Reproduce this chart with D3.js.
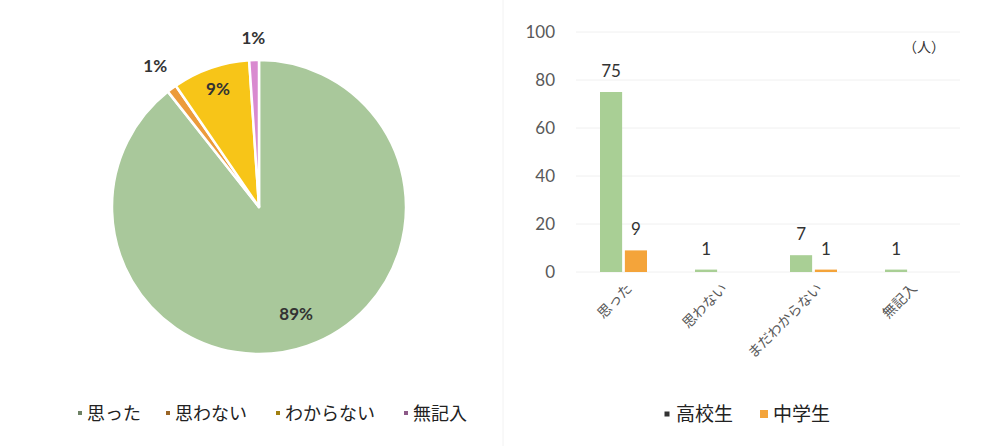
<!DOCTYPE html>
<html>
<head>
<meta charset="utf-8">
<script src="https://cdn.jsdelivr.net/npm/d3@7"></script>
<style>
  body { margin: 0; background: #fff; }
  svg { display: block; }
</style>
</head>
<body>
<svg id="chart" width="985" height="446"></svg>
<script>
// pie data (counts, total 94)
const pieLabels = ['思った', '思わない', 'わからない', '無記入'];
const pieValues = [84, 1, 8, 1];
const pieColors = ['#a9c89b', '#ec9b3b', '#f7c518', '#d98ad0'];

// bar data
const barCategories = ['思った', '思わない', 'まだわからない', '無記入'];
const seriesNames = ['高校生', '中学生'];
const highSchool = [75, 1, 7, 1];
const juniorHigh = [9, 0, 1, 0];
const yTicks = [0, 20, 40, 60, 80, 100];

const cfg = {
  numFont: 'Lato, "Noto Sans CJK JP", sans-serif',
  jpFont: '"Noto Sans CJK JP", sans-serif',
  textColor: '#333',
  axisColor: '#595959',
  gridColor: '#f0f0f0',
  barColors: ['#a9cf95', '#f4a43a'],
};

const svg = d3.select('#chart');

// faint panel divider
svg.append('line')
  .attr('x1', 503).attr('x2', 503).attr('y1', 0).attr('y2', 446)
  .attr('stroke', '#f2f2f2');

// ---------- pie ----------
const R = 147;
const pieG = svg.append('g').attr('transform', 'translate(259,207)');

const pie = d3.pie().sort(null).value(d => d)(pieValues);
const arc = d3.arc().innerRadius(0).outerRadius(R);

pieG.selectAll('path')
  .data(pie)
  .enter()
  .append('path')
  .attr('d', arc)
  .attr('fill', (d, i) => pieColors[i])
  .attr('stroke', '#fff')
  .attr('stroke-width', 2.5)
  .attr('stroke-linejoin', 'round');

// label radius per slice (inside for big ones, outside for small)
const labelR = [0.77, 1.19, 0.85, 1.15];
const total = d3.sum(pieValues);
pieG.selectAll('.pct')
  .data(pie)
  .enter()
  .append('text')
  .attr('class', 'pct')
  .attr('transform', (d, i) => {
    const a = d3.arc().innerRadius(R * labelR[i]).outerRadius(R * labelR[i]);
    return 'translate(' + a.centroid(d) + ')';
  })
  .attr('text-anchor', 'middle')
  .attr('dy', '0.35em')
  .style('font-family', cfg.numFont)
  .style('font-size', '17px')
  .style('font-weight', 'bold')
  .style('fill', cfg.textColor)
  .text(d => Math.round(d.value / total * 100) + '%');

// pie legend
const pieLegendX = [80, 168, 278, 406];
const pieLegend = svg.append('g');
pieLabels.forEach((name, i) => {
  pieLegend.append('rect')
    .attr('x', pieLegendX[i] - 2).attr('y', 411)
    .attr('width', 4).attr('height', 4)
    .attr('fill', d3.color(pieColors[i]).darker(1.2));
  pieLegend.append('text')
    .attr('x', pieLegendX[i] + 7).attr('y', 420)
    .style('font-family', cfg.jpFont)
    .style('font-size', '18px')
    .style('fill', '#222')
    .text(name);
});

// ---------- bar chart ----------
const y = d3.scaleLinear().domain([0, 100]).range([272, 32]);
const x0 = d3.scaleBand().domain(barCategories).range([576, 956]);
const x1 = d3.scaleBand().domain(seriesNames).range([0, 47]).paddingInner(0.11);

const barG = svg.append('g');

// gridlines
barG.selectAll('.grid')
  .data(yTicks)
  .enter()
  .append('line')
  .attr('x1', 576).attr('x2', 960)
  .attr('y1', d => y(d)).attr('y2', d => y(d))
  .attr('stroke', cfg.gridColor);

// y tick labels
barG.selectAll('.ytick')
  .data(yTicks)
  .enter()
  .append('text')
  .attr('x', 555)
  .attr('y', d => y(d))
  .attr('dy', '0.35em')
  .attr('text-anchor', 'end')
  .style('font-family', cfg.numFont)
  .style('font-size', '17px')
  .style('fill', cfg.axisColor)
  .text(d => d);

// bars
const series = [highSchool, juniorHigh];
series.forEach((vals, s) => {
  const rows = barCategories.map((c, i) => ({ c, v: vals[i] })).filter(d => d.v > 0);
  const groupOffset = (x0.bandwidth() - 47) / 2;
  barG.selectAll('.bar' + s)
    .data(rows)
    .enter()
    .append('rect')
    .attr('x', d => x0(d.c) + groupOffset + x1(seriesNames[s]))
    .attr('y', d => y(d.v))
    .attr('width', x1.bandwidth())
    .attr('height', d => y(0) - y(d.v))
    .attr('fill', cfg.barColors[s]);

  barG.selectAll('.val' + s)
    .data(rows)
    .enter()
    .append('text')
    .attr('x', d => x0(d.c) + groupOffset + x1(seriesNames[s]) + x1.bandwidth() / 2)
    .attr('y', d => y(d.v) - 15)
    .attr('text-anchor', 'middle')
    .style('font-family', cfg.numFont)
    .style('font-size', '17px')
    .style('fill', cfg.textColor)
    .text(d => d.v);
});

// rotated category labels
barG.selectAll('.xlab')
  .data(barCategories)
  .enter()
  .append('text')
  .attr('transform', d => 'translate(' + (x0(d) + x0.bandwidth() / 2 + 6) + ',286) rotate(-45)')
  .attr('text-anchor', 'end')
  .attr('dy', '0.35em')
  .style('font-family', cfg.jpFont)
  .style('font-size', '14px')
  .style('fill', cfg.axisColor)
  .text(d => d);

// unit label
svg.append('text')
  .attr('x', 945).attr('y', 52)
  .attr('text-anchor', 'end')
  .style('font-family', cfg.jpFont)
  .style('font-size', '14px')
  .style('fill', '#333')
  .text('（人）');

// bar legend
const barLegendX = [667, 764];
seriesNames.forEach((name, i) => {
  const size = i === 0 ? 5 : 8;
  svg.append('rect')
    .attr('x', barLegendX[i] - size / 2).attr('y', 414 - size / 2)
    .attr('width', size).attr('height', size)
    .attr('fill', i === 0 ? '#333' : cfg.barColors[1]);
  svg.append('text')
    .attr('x', barLegendX[i] + 9).attr('y', 421)
    .style('font-family', cfg.jpFont)
    .style('font-size', '19px')
    .style('fill', '#222')
    .text(name);
});
</script>
</body>
</html>
